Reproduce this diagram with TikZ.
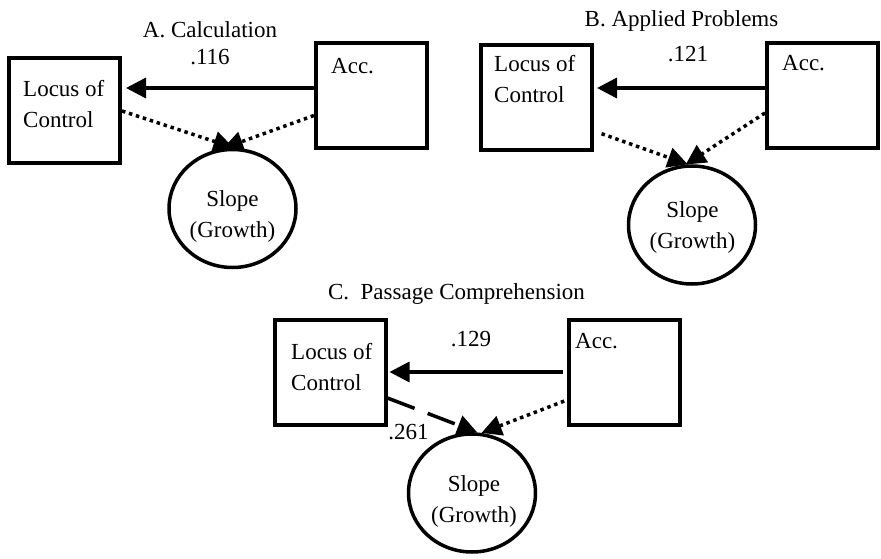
\documentclass[tikz,border=0pt]{standalone}
\usepackage{fontspec}
\setmainfont{Liberation Serif}
\usetikzlibrary{shapes.geometric,arrows.meta,calc}

\begin{document}
\begin{tikzpicture}[x=1pt,y=-1pt,
  boxnode/.style={draw,line width=4pt,minimum width=111pt,minimum height=105pt,inner sep=0pt},
  slopenode/.style={draw,ellipse,line width=3.5pt,minimum width=127pt,minimum height=118pt,inner sep=0pt},
  txt/.style={inner sep=0pt,font=\fontsize{23}{31}\selectfont,align=left},
  regarr/.style={-{Triangle[length=20pt,width=20pt]},line width=3.5pt},
  dotarr/.style={regarr,dash pattern=on 3.5pt off 3.8pt},
  dasharr/.style={regarr,dash pattern=on 29pt off 14pt}]

\useasboundingbox (0,0) rectangle (881,559);

% A. Calculation
\node[boxnode]   (locA) at (64.5,111) {};
\node[boxnode]   (accA) at (371.5,95.5) {};
\node[slopenode] (slA)  at (232.5,208.5) {};
\node[txt] (ttlA) at (210,30) {A. Calculation};
\node[txt] (cfA)  at (210,57) {.116};
\node[txt,anchor=west] (locAt) at (23,104.5) {Locus of\\Control};
\node[txt,anchor=west] (accAt) at (331,66) {Acc.};
\node[txt,align=center] (slAt) at (232.5,216) {Slope\\(Growth)};

\draw[regarr,shorten >=4pt] ([yshift=7.5pt]accA.west) -- ([yshift=7.5pt]accA.west -| locA.east);
\draw[dotarr] (locA.east) -- (slA.89);
\draw[dotarr] ([yshift=-20pt]accA.west) -- (slA.99);

% B. Applied Problems
\node[boxnode]   (locB) at (536.5,98) {};
\node[boxnode]   (accB) at (822.5,95.5) {};
\node[slopenode] (slB)  at (692,225) {};
\node[txt] (ttlB) at (681.5,21) {B. Applied Problems};
\node[txt] (cfB)  at (688,54.5) {.121};
\node[txt,anchor=west] (locBt) at (494,79) {Locus of\\Control};
\node[txt,anchor=west] (accBt) at (782,63) {Acc.};
\node[txt,align=center] (slBt) at (692.5,227.5) {Slope\\(Growth)};

\draw[regarr,shorten >=3pt] ([yshift=7.5pt]accB.west) -- ([yshift=7.5pt]accB.west -| locB.east);
\draw[dotarr,shorten <=8pt] ([yshift=-33pt]locB.east) -- (slB.94);
\draw[dotarr] ([yshift=-17.5pt]accB.west) -- (slB.96);

% C. Passage Comprehension
\node[boxnode]   (locC) at (330,372) {};
\node[boxnode]   (accC) at (624.5,372) {};
\node[slopenode] (slC)  at (472,493) {};
\node[txt] (ttlC) at (456.5,294) {C.\ \ Passage Comprehension};
\node[txt] (cfC1) at (471,339) {.129};
\node[txt] (cfC2) at (408.5,432.5) {.261};
\node[txt,anchor=west] (locCt) at (291,367.5) {Locus of\\Control};
\node[txt,anchor=west] (accCt) at (575,341) {Acc.};
\node[txt,align=center] (slCt) at (474,501) {Slope\\(Growth)};

\draw[regarr,shorten <=4pt,shorten >=2pt] (accC.west) -- (locC.east);
\draw[dasharr] ([yshift=-26pt]locC.east) -- (slC.85);
\draw[dotarr,shorten <=3pt] ([yshift=-28pt]accC.west) -- (slC.81);

\end{tikzpicture}
\end{document}
